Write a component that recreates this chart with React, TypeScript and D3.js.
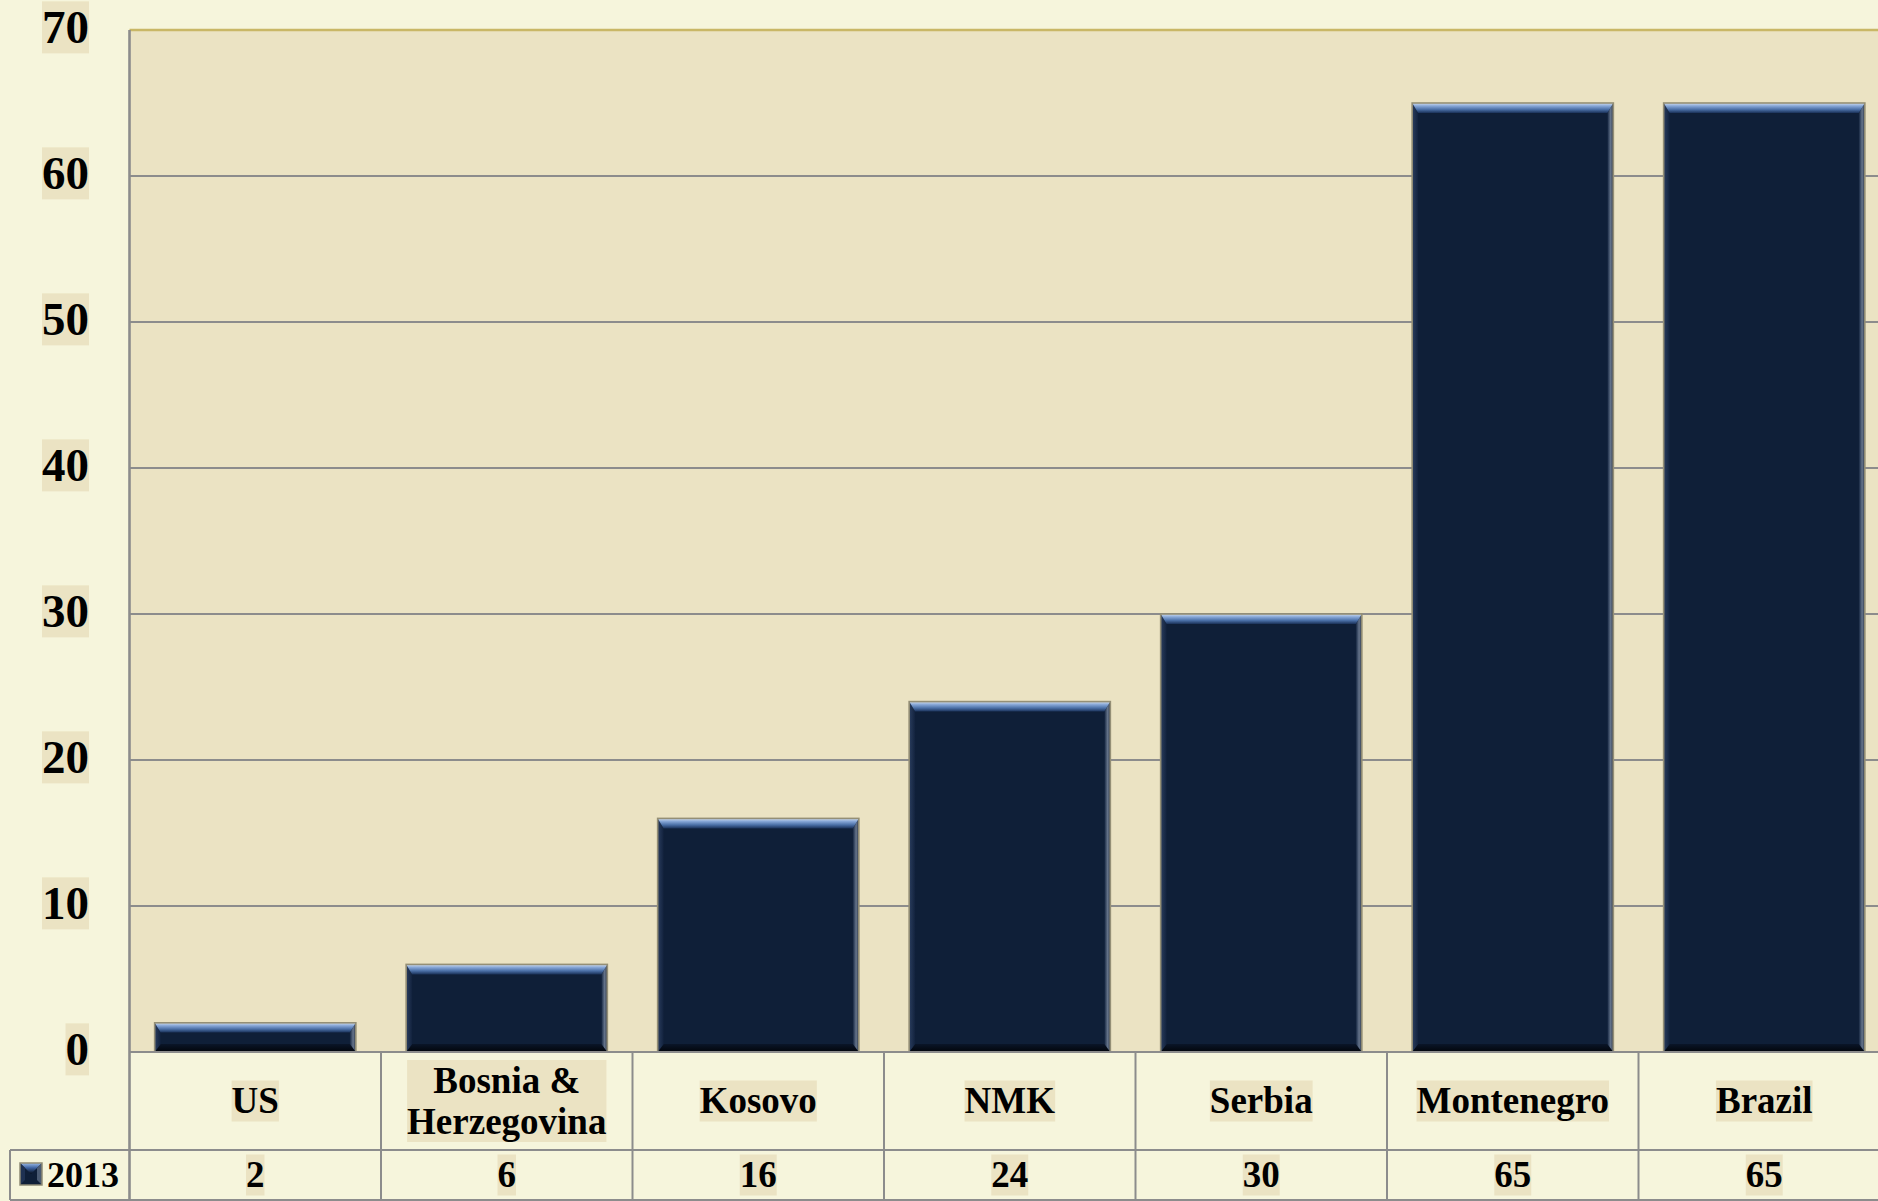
import React, { useEffect, useRef } from "react";
import * as d3 from "d3";

const categories: string[] = ["US", "Bosnia & Herzegovina", "Kosovo", "NMK", "Serbia", "Montenegro", "Brazil"];
const categoryLines: string[][] = [["US"], ["Bosnia &", "Herzegovina"], ["Kosovo"], ["NMK"], ["Serbia"], ["Montenegro"], ["Brazil"]];
const values2013: number[] = [2, 6, 16, 24, 30, 65, 65];
const seriesName = "2013";
const yTicks: number[] = [0, 10, 20, 30, 40, 50, 60, 70];

const W = 1878;
const H = 1201;
const FONT = "'Liberation Serif', 'Times New Roman', serif";
const PAGE_BG = "#F6F5DC";
const PLOT_BG = "#EBE3C3";
const LABEL_BG = "#EBE3C3";
const GRID = "#8C8C8C";

export default function App() {
  const ref = useRef<SVGSVGElement | null>(null);

  useEffect(() => {
    const svg = d3.select(ref.current);
    svg.selectAll("*").remove();

    const plotLeft = 129.5;
    const step = 251.5;
    const plotRight = plotLeft + step * categories.length;
    const plotTop = 30;
    const plotBottom = 1052;
    const rowMid = 1150;
    const tableBottom = 1200;
    const legendLeft = 10;

    const y = d3.scaleLinear().domain([0, 70]).range([plotBottom, plotTop]);
    const xCol = d3.scaleBand<string>().domain(categories).range([plotLeft, plotRight]).padding(0);
    const xBar = d3.scaleBand<string>().domain(categories).range([plotLeft, plotRight]).paddingInner(0.2).paddingOuter(0.1);

    const defs = svg.append("defs");
    const topGrad = defs.append("linearGradient").attr("id", "bevTop").attr("x1", 0).attr("y1", 0).attr("x2", 0).attr("y2", 1);
    topGrad.append("stop").attr("offset", "0%").attr("stop-color", "#D2DEEE");
    topGrad.append("stop").attr("offset", "30%").attr("stop-color", "#86A6D6");
    topGrad.append("stop").attr("offset", "65%").attr("stop-color", "#4A6FA6");
    topGrad.append("stop").attr("offset", "100%").attr("stop-color", "#1A3158");
    const rightGrad = defs.append("linearGradient").attr("id", "bevRight").attr("x1", 0).attr("y1", 0).attr("x2", 1).attr("y2", 0);
    rightGrad.append("stop").attr("offset", "0%").attr("stop-color", "#142540");
    rightGrad.append("stop").attr("offset", "55%").attr("stop-color", "#66758C");
    rightGrad.append("stop").attr("offset", "100%").attr("stop-color", "#2A3444");
    const bottomGrad = defs.append("linearGradient").attr("id", "bevBottom").attr("x1", 0).attr("y1", 0).attr("x2", 0).attr("y2", 1);
    bottomGrad.append("stop").attr("offset", "0%").attr("stop-color", "#0A1528");
    bottomGrad.append("stop").attr("offset", "100%").attr("stop-color", "#02050B");
    const leftGrad = defs.append("linearGradient").attr("id", "bevLeft").attr("x1", 0).attr("y1", 0).attr("x2", 1).attr("y2", 0);
    leftGrad.append("stop").attr("offset", "0%").attr("stop-color", "#2A3D5E");
    leftGrad.append("stop").attr("offset", "100%").attr("stop-color", "#12223D");
    const iconGrad = defs.append("linearGradient").attr("id", "iconGrad").attr("x1", 0).attr("y1", 0).attr("x2", 0).attr("y2", 1);
    iconGrad.append("stop").attr("offset", "0%").attr("stop-color", "#9CBCE8");
    iconGrad.append("stop").attr("offset", "45%").attr("stop-color", "#3D62A0");
    iconGrad.append("stop").attr("offset", "100%").attr("stop-color", "#050C18");

    // page + plot backgrounds
    svg.append("rect").attr("x", 0).attr("y", 0).attr("width", W).attr("height", H).attr("fill", PAGE_BG);
    svg.append("rect").attr("x", plotLeft).attr("y", plotTop).attr("width", plotRight - plotLeft).attr("height", plotBottom - plotTop).attr("fill", PLOT_BG);

    // horizontal gridlines
    svg.append("g").selectAll("line").data(yTicks.filter(t => t > 0 && t < 70)).join("line")
      .attr("x1", plotLeft).attr("x2", plotRight)
      .attr("y1", d => y(d)).attr("y2", d => y(d))
      .attr("stroke", GRID).attr("stroke-width", 2);
    svg.append("line").attr("x1", plotLeft).attr("x2", plotRight).attr("y1", y(70)).attr("y2", y(70))
      .attr("stroke", "#C9B766").attr("stroke-width", 2.5);

    // bars with bevelled edges
    const bars = svg.append("g");
    categories.forEach((c, i) => {
      const x0 = xBar(c)!;
      const x1 = x0 + xBar.bandwidth();
      const y0 = y(values2013[i]);
      const y1 = y(0);
      const bt = Math.min(10, (y1 - y0) / 3);
      const bb = Math.min(8, (y1 - y0) / 3);
      const bs = 6;
      const g = bars.append("g");
      g.append("rect").attr("x", x0).attr("y", y0).attr("width", x1 - x0).attr("height", y1 - y0).attr("fill", "#0F1F38");
      const poly = (pts: [number, number][], fill: string) =>
        g.append("polygon").attr("points", pts.map(p => p.join(",")).join(" ")).attr("fill", fill);
      poly([[x0, y1], [x1, y1], [x1 - bs, y1 - bb], [x0 + bs, y1 - bb]], "url(#bevBottom)");
      poly([[x0, y0], [x0, y1], [x0 + bs, y1 - bb], [x0 + bs, y0 + bt]], "url(#bevLeft)");
      poly([[x1, y0], [x1, y1], [x1 - bs, y1 - bb], [x1 - bs, y0 + bt]], "url(#bevRight)");
      poly([[x0, y0], [x1, y0], [x1 - bs, y0 + bt], [x0 + bs, y0 + bt]], "url(#bevTop)");
      g.append("rect").attr("x", x0).attr("y", y0).attr("width", x1 - x0).attr("height", y1 - y0)
        .attr("fill", "none").attr("stroke", "#948F76").attr("stroke-width", 1.6);
    });

    // plot bottom axis line
    svg.append("line").attr("x1", plotLeft).attr("x2", plotRight).attr("y1", plotBottom).attr("y2", plotBottom)
      .attr("stroke", GRID).attr("stroke-width", 2);

    // data table
    const table = svg.append("g").attr("stroke", GRID).attr("stroke-width", 2);
    categories.forEach(c => {
      const xc = xCol(c)! + xCol.bandwidth();
      table.append("line").attr("x1", xc).attr("x2", xc).attr("y1", plotBottom).attr("y2", tableBottom);
    });
    table.append("line").attr("x1", legendLeft).attr("x2", plotRight).attr("y1", rowMid).attr("y2", rowMid);
    table.append("line").attr("x1", legendLeft).attr("x2", plotRight).attr("y1", tableBottom).attr("y2", tableBottom);
    table.append("line").attr("x1", legendLeft).attr("x2", legendLeft).attr("y1", rowMid).attr("y2", tableBottom);
    svg.append("line").attr("x1", plotLeft).attr("x2", plotLeft).attr("y1", plotTop).attr("y2", tableBottom)
      .attr("stroke", GRID).attr("stroke-width", 2.6);

    // text with a tan box behind it
    const labelled = (parent: any, build: (g: any) => any) => {
      const g = parent.append("g");
      const bg = g.append("rect").attr("fill", LABEL_BG);
      const t = build(g);
      const bb = (t.node() as SVGTextElement).getBBox();
      bg.attr("x", bb.x).attr("y", bb.y).attr("width", bb.width).attr("height", bb.height);
    };

    const txt = svg.append("g").attr("font-family", FONT).attr("font-weight", "bold").attr("fill", "#000");

    // y-axis tick labels
    const tickFs = 47;
    yTicks.forEach(t => {
      labelled(txt, g => g.append("text").attr("x", 89).attr("y", y(t) + 0.3375 * tickFs - 2.5)
        .attr("text-anchor", "end").attr("font-size", tickFs).text(String(t)));
    });

    // category labels
    const catFs = 37;
    const catMid = (plotBottom + rowMid) / 2;
    categories.forEach((c, i) => {
      const lines = categoryLines[i];
      const lh = 41;
      const cx = xCol(c)! + xCol.bandwidth() / 2;
      labelled(txt, g => {
        const t = g.append("text").attr("text-anchor", "middle").attr("font-size", catFs);
        lines.forEach((ln, k) => {
          t.append("tspan").attr("x", cx)
            .attr("y", catMid + 0.3375 * catFs + (k - (lines.length - 1) / 2) * lh)
            .text(ln);
        });
        return t;
      });
    });

    // value row
    const valMid = (rowMid + tableBottom) / 2;
    categories.forEach((c, i) => {
      const cx = xCol(c)! + xCol.bandwidth() / 2;
      labelled(txt, g => g.append("text").attr("x", cx).attr("y", valMid + 0.3375 * catFs)
        .attr("text-anchor", "middle").attr("font-size", catFs).text(String(values2013[i])));
    });

    // legend key in the table
    const kx = 20, ky = 1163, ks = 22, kb = 5;
    const key = svg.append("g");
    key.append("rect").attr("x", kx).attr("y", ky).attr("width", ks).attr("height", ks).attr("fill", "#0F1F38");
    key.append("polygon").attr("points", [[kx, ky], [kx + ks, ky], [kx + ks / 2, ky + ks / 2]].map(p => p.join(",")).join(" "))
      .attr("fill", "url(#iconGrad)");
    key.append("polygon").attr("points", [[kx, ky], [kx, ky + ks], [kx + kb, ky + ks - kb], [kx + kb, ky + kb]].map(p => p.join(",")).join(" "))
      .attr("fill", "#1E3152");
    key.append("polygon").attr("points", [[kx + ks, ky], [kx + ks, ky + ks], [kx + ks - kb, ky + ks - kb], [kx + ks - kb, ky + kb]].map(p => p.join(",")).join(" "))
      .attr("fill", "#4A5A72");
    key.append("rect").attr("x", kx).attr("y", ky).attr("width", ks).attr("height", ks)
      .attr("fill", "none").attr("stroke", "#8E8A74").attr("stroke-width", 1.5);
    txt.append("text").attr("x", 47).attr("y", valMid + 0.3375 * 36).attr("font-size", 36).text(seriesName);
  }, []);

  return (
    <svg ref={ref} width={W} height={H} style={{ position: "absolute", left: 0, top: 0, display: "block" }} />
  );
}
